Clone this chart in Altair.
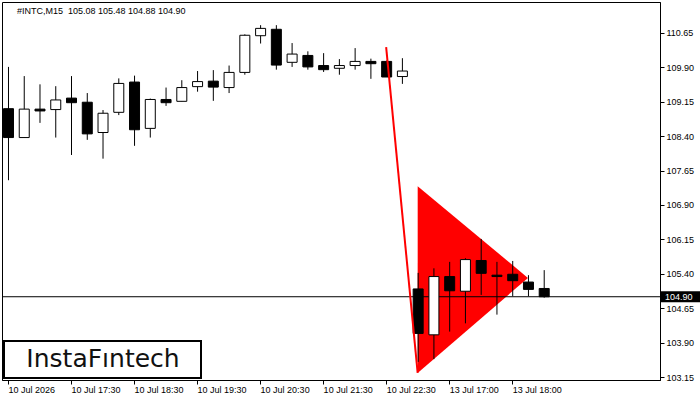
import json
import altair as alt
import pandas as pd

# ---------------- data ----------------
opens  = [109.00,108.37,108.99,108.98,109.23,109.14,108.48,108.92,109.58,108.57,109.20,109.16,109.48,109.60,109.46,109.79,110.59,110.73,110.01,110.16,109.94,109.88,109.94,110.03,110.03,109.70,105.07,104.07,105.34,105.02,105.69,105.37,105.39,105.22,105.08]
highs  = [109.91,109.71,109.53,109.49,109.71,109.34,108.97,109.66,109.72,109.22,109.46,109.62,109.82,109.84,109.94,110.62,110.82,110.82,110.43,110.25,110.21,110.08,110.32,110.09,110.05,110.10,105.42,105.52,105.66,105.74,106.16,105.66,105.68,105.37,105.48]
lows   = [107.44,108.37,108.69,108.37,107.99,108.32,107.91,108.86,108.19,108.37,109.06,109.16,109.37,109.17,109.34,109.74,110.42,109.85,109.91,109.85,109.80,109.74,109.85,109.65,109.69,109.54,103.48,103.54,104.14,104.32,104.94,104.51,104.91,104.91,104.88]
closes = [108.37,108.99,108.95,109.19,109.13,108.45,108.90,109.55,108.54,109.20,109.13,109.46,109.59,109.47,109.79,110.60,110.75,109.95,110.19,109.91,109.85,109.94,110.03,109.98,109.69,109.82,104.10,105.34,105.03,105.71,105.41,105.34,105.25,105.06,104.90]

tick_index  = [0, 4, 8, 12, 16, 20, 24, 28, 32]
tick_labels = ["10 Jul 2026", "10 Jul 17:30", "10 Jul 18:30", "10 Jul 19:30",
               "10 Jul 20:30", "10 Jul 21:30", "10 Jul 22:30", "13 Jul 17:00", "13 Jul 18:00"]
price_ticks = [103.15, 103.90, 104.65, 105.40, 106.15, 106.90, 107.65, 108.40, 109.15, 109.90, 110.65]

pennant_x      = [26, 33]
pennant_top    = [107.31, 105.31]
pennant_bottom = [103.24, 105.31]
pole_x     = [24, 26]
pole_price = [110.34, 103.24]
last_price = 104.90

header = "#INTC,M15\u00a0 105.08 105.48 104.88 104.90"
logo = "InstaF\u0131ntech"

# ---------------- tables ----------------
candles = pd.DataFrame({
    "i": list(range(len(opens))),
    "open": opens, "high": highs, "low": lows, "close": closes,
})
candles["dir"] = ["up" if c >= o else "down" for o, c in zip(opens, closes)]

pennant = pd.DataFrame({"i": pennant_x, "top": pennant_top, "bot": pennant_bottom})
pole = pd.DataFrame({"i": pole_x, "p": pole_price})
last = pd.DataFrame({"p": [last_price], "label": [f"{last_price:.2f}"]})

FONT = "Liberation Sans"

xscale = alt.Scale(domain=[-0.0625, 41.0625], nice=False, zero=False)
yscale = alt.Scale(domain=[103.085, 111.325], nice=False, zero=False)

label_expr = json.dumps(tick_labels) + "[round(datum.value/4)]"

xaxis = alt.Axis(values=tick_index, labelExpr=label_expr, title=None, grid=False,
                 labelAlign="left", labelBaseline="top", labelPadding=1, tickSize=4,
                 labelFlush=False, labelOverlap=False, labelBound=False)
yaxis = alt.Axis(values=price_ticks, format=".2f", title=None, grid=False, orient="right",
                 tickSize=4, labelPadding=2, labelOverlap=False, labelFlush=False,
                 labelBound=False)


def X(field):
    return alt.X(field, scale=xscale, axis=xaxis)


def Y(field):
    return alt.Y(field, scale=yscale, axis=yaxis)


tri = alt.Chart(pennant).mark_area(color="#ff0000", opacity=1, clip=True).encode(
    x=X("i:Q"), y=Y("top:Q"), y2="bot:Q",
)

pline = alt.Chart(last).mark_rule(color="black", strokeWidth=1).encode(
    y=Y("p:Q"),
)

wicks = alt.Chart(candles).mark_rule(color="black", strokeWidth=1, clip=True, xOffset=0.5).encode(
    x=X("i:Q"), y=Y("low:Q"), y2="high:Q",
)

bodies = alt.Chart(candles).mark_bar(size=10, stroke="black", strokeWidth=1, clip=True,
                                     xOffset=0.5, opacity=1).encode(
    x=X("i:Q"), y=Y("open:Q"), y2="close:Q",
    fill=alt.Fill("dir:N", scale=alt.Scale(domain=["up", "down"], range=["white", "black"]), legend=None),
)

pole_line = alt.Chart(pole).mark_line(color="#ff0000", strokeWidth=2, clip=True).encode(
    x=X("i:Q"), y=Y("p:Q"),
)

plabel_box = alt.Chart(last).mark_rect(color="black", yOffset=-5.5, y2Offset=5.5).encode(
    x=alt.value(659), x2=alt.value(698),
    y=Y("p:Q"), y2="p:Q",
)
plabel_txt = alt.Chart(last).mark_text(color="white", align="left", baseline="middle",
                                       font=FONT, fontSize=9).encode(
    x=alt.value(663),
    y=Y("p:Q"),
    text="label:N",
)

head = alt.Chart(pd.DataFrame({"t": [header]})).mark_text(
    align="left", baseline="middle", font=FONT, fontSize=9, color="black").encode(
    x=alt.value(15), y=alt.value(9), text="t:N")

logo_box = alt.Chart(pd.DataFrame({"t": [logo]})).mark_rect(
    fill="white", stroke="black", strokeWidth=2).encode(
    x=alt.value(2), x2=alt.value(199), y=alt.value(339), y2=alt.value(376))
logo_txt = alt.Chart(pd.DataFrame({"t": [logo]})).mark_text(
    align="center", baseline="alphabetic", font="DejaVu Sans", fontSize=25, color="#111111").encode(
    x=alt.value(101), y=alt.value(365), text="t:N")

chart = alt.layer(
    tri, pline, wicks, bodies, pole_line, plabel_box, plabel_txt, head, logo_box, logo_txt
).properties(
    width=658, height=378,
    padding={"left": 2, "top": 2, "right": 40, "bottom": 20},
    autosize="none",
    background="white",
).configure_view(
    stroke="black", strokeWidth=1
).configure_axis(
    labelFont=FONT, labelFontSize=9, labelColor="black",
    tickColor="black", domainColor="black", domainWidth=1, tickWidth=1,
)

chart.save("out.html", embed_options={"renderer": "svg", "actions": False})
